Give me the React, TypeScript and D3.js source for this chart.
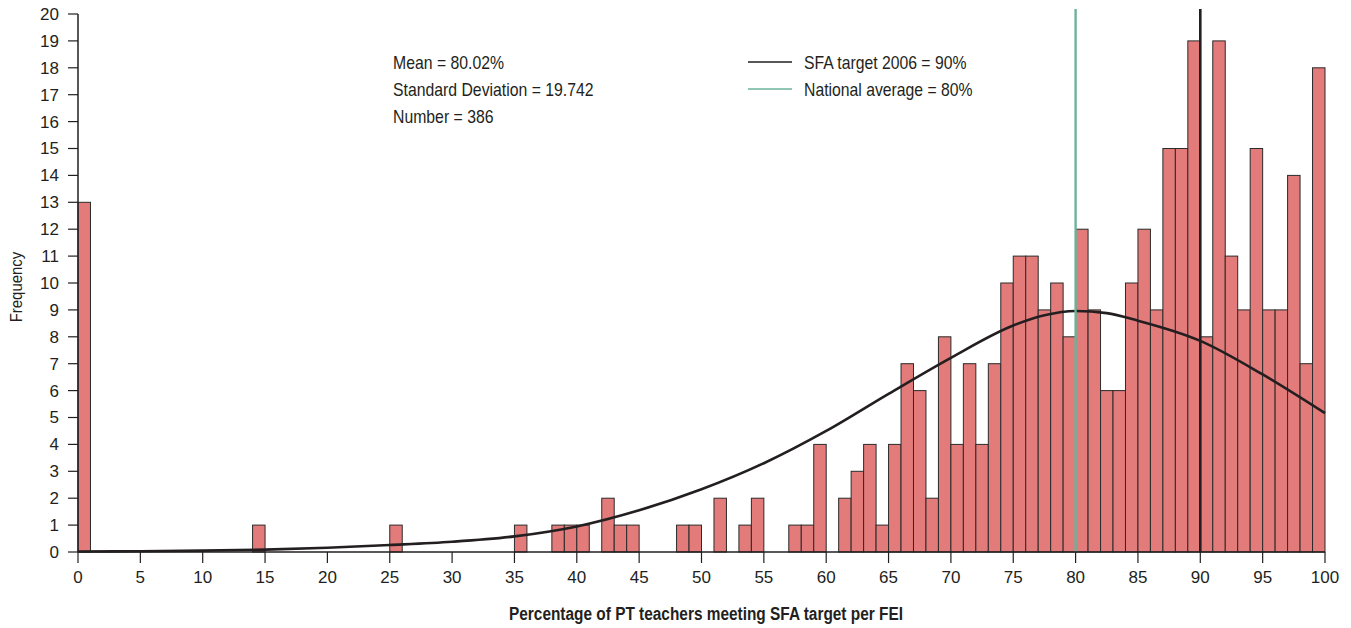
import React from "react";
import * as d3 from "d3";

// Histogram: frequency for bins [i, i+1), i = 0..99
const frequencies: number[] = [
  13, 0, 0, 0, 0, 0, 0, 0, 0, 0,
  0, 0, 0, 0, 1, 0, 0, 0, 0, 0,
  0, 0, 0, 0, 0, 1, 0, 0, 0, 0,
  0, 0, 0, 0, 0, 1, 0, 0, 1, 1,
  1, 0, 2, 1, 1, 0, 0, 0, 1, 1,
  0, 2, 0, 1, 2, 0, 0, 1, 1, 4,
  0, 2, 3, 4, 1, 4, 7, 6, 2, 8,
  4, 7, 4, 7, 10, 11, 11, 9, 10, 8,
  12, 9, 6, 6, 10, 12, 9, 15, 15, 19,
  8, 19, 11, 9, 15, 9, 9, 14, 7, 18,
];

// Normal curve
const curveX: number[] = [0, 5, 10, 15, 20, 25, 30, 35, 40, 45, 50, 55, 60, 65, 70, 75, 77.5, 80, 82.5, 85, 90, 95, 100];
const curveY: number[] = [0.02, 0.03, 0.05, 0.09, 0.16, 0.26, 0.38, 0.58, 0.95, 1.55, 2.33, 3.3, 4.5, 5.88, 7.22, 8.42, 8.8, 8.96, 8.88, 8.6, 7.85, 6.6, 5.16];

const xTicks: number[] = [0, 5, 10, 15, 20, 25, 30, 35, 40, 45, 50, 55, 60, 65, 70, 75, 80, 85, 90, 95, 100];
const yTicks: number[] = d3.range(0, 21);

const statsLines: string[] = ["Mean = 80.02%", "Standard Deviation = 19.742", "Number = 386"];
const refLabels: string[] = ["SFA target 2006 = 90%", "National average = 80%"];
const refValues: number[] = [90, 80];
const refColors: string[] = ["#231f20", "#6db39a"];

const FONT = "'Liberation Sans', Arial, sans-serif";
const INK = "#231f20";

function NarrowText(props: {
  x: number;
  y: number;
  sx: number;
  size: number;
  anchor?: string;
  weight?: string;
  rotate?: number;
  children: React.ReactNode;
}) {
  const { x, y, sx, size, anchor, weight, rotate, children } = props;
  const t = `translate(${x},${y})${rotate ? ` rotate(${rotate})` : ""} scale(${sx},1)`;
  return (
    <text
      transform={t}
      textAnchor={anchor || "start"}
      fontSize={size}
      fontWeight={weight || "normal"}
      fill={INK}
    >
      {children}
    </text>
  );
}

export default function App() {
  const W = 1351, H = 628;
  const x = d3.scaleLinear().domain([0, 100]).range([78, 1325]);
  const y = d3.scaleLinear().domain([0, 20]).range([552, 14]);

  const line = d3
    .line<number>()
    .x((_, i) => x(curveX[i]))
    .y((d) => y(d))
    .curve(d3.curveMonotoneX);

  return (
    <svg
      width={W}
      height={H}
      style={{ position: "absolute", left: 0, top: 0, background: "#fff" }}
      fontFamily={FONT}
    >
      {/* bars */}
      {frequencies.map((f, i) =>
        f > 0 ? (
          <rect
            key={i}
            x={x(i)}
            y={y(f)}
            width={x(i + 1) - x(i)}
            height={y(0) - y(f)}
            fill="#e27b7a"
            stroke="#2b2b2b"
            strokeWidth={1}
          />
        ) : null
      )}

      {/* normal curve */}
      <path d={line(curveY) || ""} fill="none" stroke={INK} strokeWidth={2.6} />

      {/* reference lines */}
      {refValues.map((v, i) => (
        <line
          key={i}
          x1={x(v)}
          x2={x(v)}
          y1={9}
          y2={y(0)}
          stroke={refColors[i]}
          strokeWidth={i === 0 ? 2.6 : 2.4}
        />
      ))}

      {/* y axis */}
      <line x1={x(0)} x2={x(0)} y1={y(20)} y2={y(0)} stroke={INK} strokeWidth={1.5} />
      {yTicks.map((t) => (
        <g key={t}>
          <line x1={x(0) - 10} x2={x(0)} y1={y(t)} y2={y(t)} stroke={INK} strokeWidth={1.2} />
          <text x={59} y={y(t)} dy="0.35em" textAnchor="end" fontSize={17} fill={INK}>
            {t}
          </text>
        </g>
      ))}

      {/* x axis */}
      <line x1={x(0)} x2={x(100)} y1={y(0)} y2={y(0)} stroke={INK} strokeWidth={1.5} />
      {xTicks.map((t) => (
        <g key={t}>
          <line x1={x(t)} x2={x(t)} y1={y(0)} y2={y(0) + 11} stroke={INK} strokeWidth={1.2} />
          <text x={x(t)} y={583} textAnchor="middle" fontSize={17} fill={INK}>
            {t}
          </text>
        </g>
      ))}

      {/* axis titles */}
      <NarrowText x={22} y={287} sx={0.88} size={17} anchor="middle" rotate={-90}>
        Frequency
      </NarrowText>
      <NarrowText x={706} y={620} sx={0.824} size={18.7} anchor="middle" weight="bold">
        Percentage of PT teachers meeting SFA target per FEI
      </NarrowText>

      {/* stats */}
      {statsLines.map((s, i) => (
        <NarrowText key={s} x={393} y={69 + i * 27} sx={0.878} size={18}>
          {s}
        </NarrowText>
      ))}

      {/* legend */}
      {refLabels.map((s, i) => (
        <g key={s}>
          <line x1={748} x2={792} y1={62 + i * 27} y2={62 + i * 27} stroke={refColors[i]} strokeWidth={1.5} />
          <NarrowText x={804} y={69 + i * 27} sx={0.876} size={18}>
            {s}
          </NarrowText>
        </g>
      ))}
    </svg>
  );
}
